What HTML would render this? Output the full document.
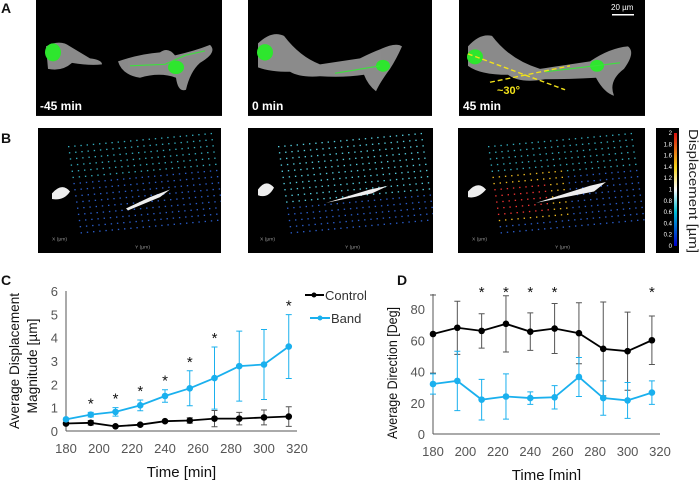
<!DOCTYPE html>
<html><head><meta charset="utf-8"><style>
body{margin:0;background:#fff;width:700px;height:480px;overflow:hidden;font-family:"Liberation Sans",sans-serif}
svg{position:absolute;left:0;top:0}
</style></head><body>
<svg id="fig" width="700" height="480" font-family="Liberation Sans, sans-serif">
<defs>
<clipPath id="bclip"><rect x="38" y="171" width="183" height="132"/><rect x="248" y="171" width="185" height="132"/><rect x="458" y="171" width="187" height="132"/></clipPath>
<linearGradient id="cb" x1="0" y1="1" x2="0" y2="0"><stop offset="0" stop-color="#0000cc"/><stop offset="0.3" stop-color="#00bcd4"/><stop offset="0.5" stop-color="#fff"/><stop offset="0.7" stop-color="#f5d21a"/><stop offset="1" stop-color="#d81010"/></linearGradient>
</defs>
<g font-weight="bold" font-size="14" fill="#111">
<text x="1" y="13">A</text><text x="1" y="143">B</text><text x="1" y="285">C</text><text x="397" y="285">D</text>
</g>
<!-- A panels -->
<g>
<g transform="scale(1,0.748)">
<rect x="36" y="0" width="186" height="155" fill="#000"/>
<rect x="248" y="0" width="184" height="155" fill="#000"/>
<rect x="459" y="0" width="186" height="155" fill="#000"/>
<g fill="#9a9a9a" opacity="0.9">
<path d="M46 62 Q60 52 70 62 L90 78 Q102 80 102 86 Q90 88 72 84 Q62 96 48 92 Z"/>
<path d="M118 82 Q140 72 160 70 Q168 62 175 74 Q195 68 210 60 Q218 70 200 84 Q190 96 186 120 Q178 124 176 104 Q160 96 140 104 Q122 100 118 82 Z"/>
<path d="M258 58 Q272 40 284 48 Q300 76 320 86 Q340 82 360 78 Q372 70 380 66 Q396 56 402 62 Q396 80 390 92 Q380 110 376 122 Q368 114 364 100 Q344 104 320 102 Q300 104 290 96 Q270 96 258 90 Z"/>
<path d="M468 62 Q480 44 492 48 Q510 80 540 92 Q560 88 590 82 Q610 64 628 62 Q636 70 624 92 Q608 108 614 128 Q604 124 596 104 Q570 106 545 106 Q520 112 508 100 Q480 100 468 88 Z"/>
</g>
<g fill="#2ee62e">
<ellipse cx="53" cy="70" rx="8" ry="12"/><ellipse cx="176" cy="90" rx="8" ry="9"/>
<ellipse cx="265" cy="70" rx="8" ry="11"/><ellipse cx="383" cy="88" rx="7" ry="8"/>
<ellipse cx="475" cy="76" rx="8" ry="10"/><ellipse cx="597" cy="88" rx="7" ry="8"/>
</g>
<g stroke="#3ee03e" stroke-width="1.5" fill="none">
<path d="M130 88 L165 86 L185 74 L205 68"/><path d="M335 98 L380 88"/><path d="M545 96 L595 88 L620 84"/>
</g>
<g stroke="#f2e21a" stroke-width="1.8" stroke-dasharray="5,3" fill="none">
<path d="M468 72 L565 120"/><path d="M490 110 L570 88"/>
</g>
</g>
<text x="497" y="94" fill="#f2e21a" font-size="11" font-weight="bold">~30°</text>
<g fill="#fff" font-size="12" font-weight="bold">
<text x="40" y="110">-45 min</text><text x="252" y="110">0 min</text><text x="463" y="110">45 min</text>
</g>
<text x="611" y="10" fill="#fff" font-size="8">20 µm</text>
<rect x="612" y="14" width="22" height="1.5" fill="#fff"/>
</g>
<!-- B panels -->
<g transform="translate(0,128) scale(1,0.947) translate(0,-171)">
<rect x="38" y="171" width="183" height="132" fill="#000"/>
<rect x="248" y="171" width="185" height="132" fill="#000"/>
<rect x="458" y="171" width="187" height="132" fill="#000"/>
<g id="bdots" clip-path="url(#bclip)"></g>
<g fill="#eee"><path d="M52 240 Q62 228 70 238 Q64 248 52 246 Z"/><path d="M126 256 L150 244 L170 236 L160 244 L128 258 Z"/>
<path d="M258 236 Q266 224 274 234 Q268 246 258 242 Z"/><path d="M326 250 L370 236 L388 232 L372 240 Z"/>
<path d="M468 238 Q478 226 486 236 Q478 246 468 244 Z"/><path d="M536 250 L590 232 L606 228 L594 238 Z"/></g>
<g fill="#999" font-size="5"><text x="52" y="290">X (µm)</text><text x="135" y="298">Y (µm)</text><text x="260" y="290">X (µm)</text><text x="345" y="298">Y (µm)</text><text x="472" y="290">X (µm)</text><text x="555" y="298">Y (µm)</text></g>
</g>
<g>
<rect x="656" y="128" width="23" height="125" fill="#000"/>
<rect x="674" y="133" width="3" height="113" fill="url(#cb)"/>
<g fill="#fff" font-size="6" text-anchor="end" id="cbticks"></g>
<text transform="translate(689,129) rotate(90)" font-size="13" fill="#222" textLength="124" lengthAdjust="spacingAndGlyphs">Displacement [µm]</text>
</g>
<g id="chartC"></g>
<g id="chartD"></g>
<g font-size="13" fill="#333">
<line x1="305" y1="295" x2="324" y2="295" stroke="#000" stroke-width="2"/><circle cx="314" cy="295" r="2.5" fill="#000"/>
<text x="325" y="300">Control</text>
<line x1="310" y1="318" x2="330" y2="318" stroke="#1ab0ee" stroke-width="2"/><circle cx="320" cy="318" r="2.5" fill="#1ab0ee"/>
<text x="331" y="323">Band</text>
</g>
</svg>
<script>
const times=[180,195,210,225,240,255,270,285,300,315];
const cBand=[0.5,0.7,0.82,1.1,1.5,1.83,2.27,2.78,2.85,3.62];
const cBandErr=[0.05,0.1,0.18,0.23,0.27,0.75,1.33,1.5,1.5,1.37];
const cCtrl=[0.32,0.35,0.2,0.27,0.42,0.45,0.53,0.53,0.58,0.62];
const cCtrlErr=[0.05,0.1,0.05,0.05,0.05,0.12,0.35,0.27,0.32,0.42];
const cStars=[195,210,225,240,255,270,315];
const cYTicks=[0,1,2,3,4,5,6];
const xTicks=[180,200,220,240,260,280,300,320];
const dCtrl=[64,68,66,70.5,65.5,67.5,64.5,54.5,53,60];
const dCtrlErr=[25,17,11,18,12,16,19.5,30,25,15.5];
const dBand=[32,34,22,24,23,23.5,36.5,23,21.5,26.5];
const dBandErr=[6.5,19,13,14.5,4,7.5,12.5,11,11.5,7.5];
const dStars=[210,225,240,255,315];
const dYTicks=[0,20,40,60,80];
const cbLabels=[0,0.2,0.4,0.6,0.8,1,1.2,1.4,1.6,1.8,2];
const NS="http://www.w3.org/2000/svg";
function mk(p,t,a){const e=document.createElementNS(NS,t);for(const k in a)e.setAttribute(k,a[k]);p.appendChild(e);return e;}
function chart(g,o){
 const X=v=>o.x0+(v-180)/140*(o.x1-o.x0), Y=v=>o.y0-(v-o.ymin)/(o.ymax-o.ymin)*(o.y0-o.y1);
 mk(g,'line',{x1:o.x0,y1:o.y0,x2:o.x1,y2:o.y0,stroke:'#555','stroke-width':1});
 mk(g,'line',{x1:o.x0,y1:o.y0,x2:o.x0,y2:o.ytop,stroke:'#555','stroke-width':1});
 o.yt.forEach(v=>{const t=mk(g,'text',{x:o.x0-8,y:Y(v)+5,'text-anchor':'end','font-size':13,fill:'#555'});t.textContent=v;
  
  });
 xTicks.forEach(v=>{const t=mk(g,'text',{x:X(v),y:o.y0+22,'text-anchor':'middle','font-size':13,fill:'#555'});t.textContent=v;
  
  });
 const xt=mk(g,'text',{x:(o.x0+o.x1)/2,y:o.y0+46,'text-anchor':'middle','font-size':15,fill:'#111'});xt.textContent='Time [min]';
 
 
 o.ytitle.forEach((s,i)=>{const cx=o.ytx[i],cy=o.ytc[i];const t=mk(g,'text',{x:cx,y:cy,'text-anchor':'middle','font-size':14,fill:'#111',transform:`rotate(-90 ${cx} ${cy})`,textLength:o.ytl[i],lengthAdjust:'spacingAndGlyphs'});t.textContent=s;
  
  });
 o.series.forEach(s=>{
  const pts=times.map((t,i)=>X(t)+','+Y(s.v[i])).join(' ');
  s.v.forEach((v,i)=>{const x=X(times[i]);
   const eb=mk(g,'path',{d:`M${x},${Y(v-s.e[i])}V${Y(v+s.e[i])}M${x-3},${Y(v-s.e[i])}h6M${x-3},${Y(v+s.e[i])}h6`,stroke:s.ec,'stroke-width':1,fill:'none'});
   
   });
  const l=mk(g,'polyline',{points:pts,fill:'none',stroke:s.c,'stroke-width':1.8});
  
  
  s.v.forEach((v,i)=>{const c=mk(g,'circle',{cx:X(times[i]),cy:Y(v),r:3.3,fill:s.c});
   
   });
 });
 o.stars.forEach(t=>{const st=mk(g,'text',{x:X(t),y:o.starY(t,X,Y),'text-anchor':'middle','font-size':15,fill:'#111'});st.textContent='*';
  
  });
}
chart(document.getElementById('chartC'),{x0:66,x1:297,y0:431,y1:291,ytop:291,ymin:0,ymax:6,yt:cYTicks,
 ytx:[19,37],ytc:[361,366],ytl:[136,95],ytitle:['Average Displacement','Magnitude [µm]'],
 series:[{name:'control',v:cCtrl,e:cCtrlErr,c:'#000',ec:'#555'},{name:'band',v:cBand,e:cBandErr,c:'#1ab0ee',ec:'#1ab0ee'}],
 stars:cStars,starY:(t,X,Y)=>{const i=times.indexOf(t);return Y(cBand[i]+cBandErr[i])-4;}});
chart(document.getElementById('chartD'),{x0:433,x1:660,y0:434,y1:309,ytop:294,ymin:0,ymax:80,yt:dYTicks,
 ytx:[397],ytc:[373],ytl:[132],ytitle:['Average Direction [Deg]'],
 series:[{name:'control',v:dCtrl,e:dCtrlErr,c:'#000',ec:'#555'},{name:'band',v:dBand,e:dBandErr,c:'#1ab0ee',ec:'#1ab0ee'}],
 stars:dStars,starY:()=>297});
const cbt=document.getElementById('cbticks');
cbLabels.forEach(v=>{const t=mk(cbt,'text',{x:672,y:246-v/2*113+2});t.textContent=v;
 
 });
const bd=document.getElementById('bdots');
[38,248,458].forEach((ox,k)=>{
 for(let r=0;r<15;r++)for(let c=0;c<24;c++){const x=ox+30+c*6.2+r*0.9,y=190+r*6.5-c*0.6+(c*c*0)+r*0;
  const col=(k==2&&c<9&&r>6&&r<12)?'#e33':(k==2&&c<12&&r>4&&r<13)?'#eb2':(k==1&&r<10)?'#5cd':(r<6?'#3ab':'#2a5cc8');
  mk(bd,'rect',{x:x,y:y,width:1.4,height:1.4,fill:col});}
});
</script>
</body></html>
